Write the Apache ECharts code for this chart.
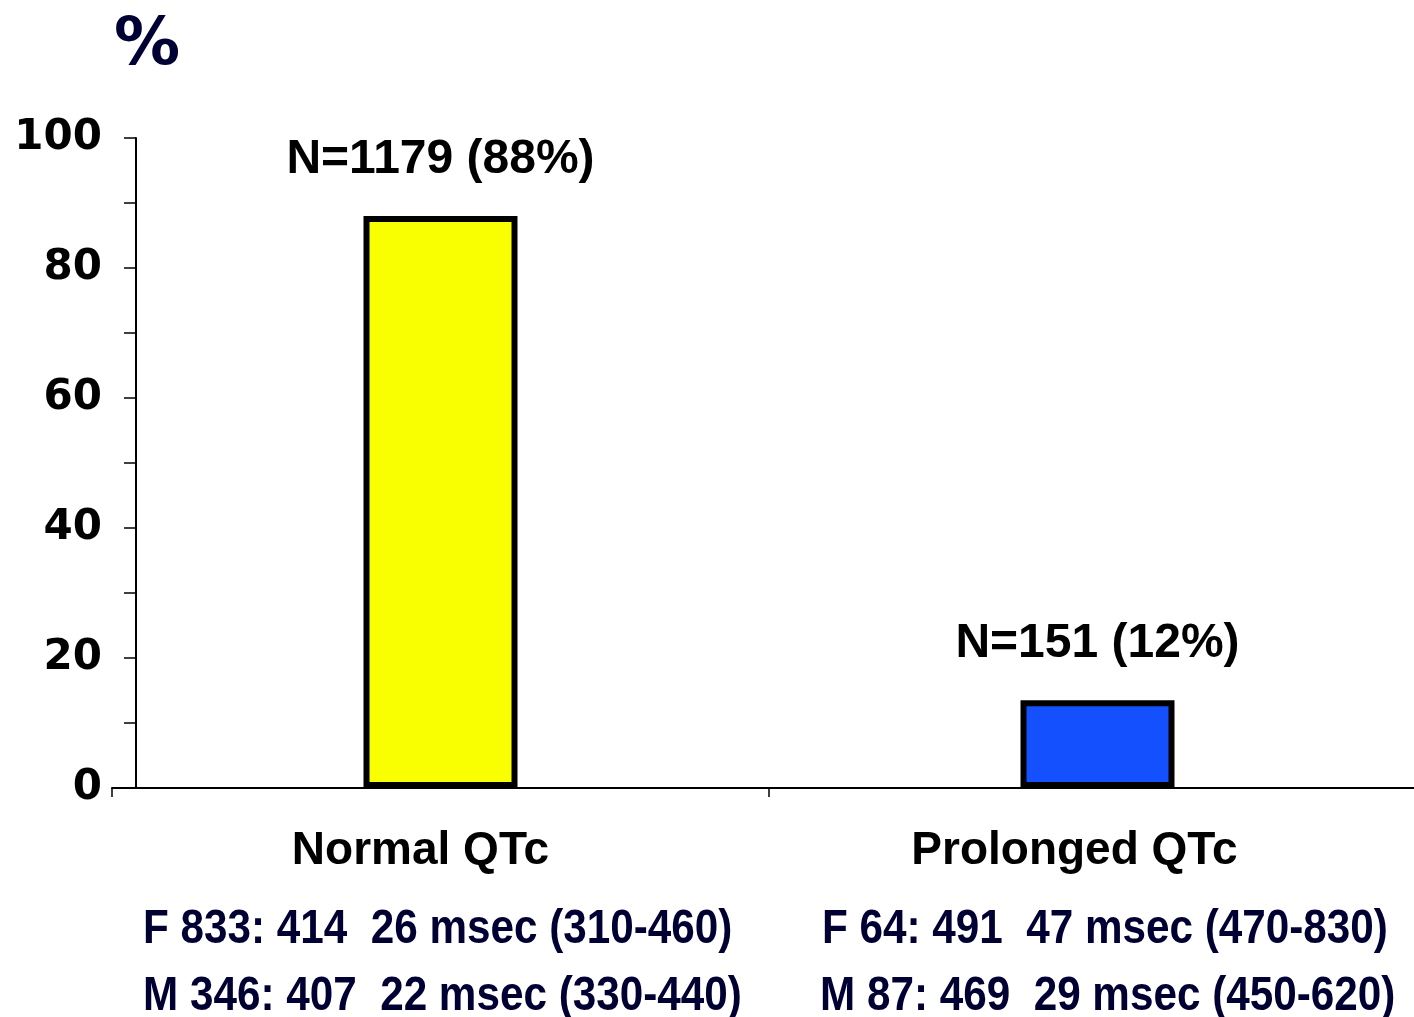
<!DOCTYPE html>
<html>
<head>
<meta charset="utf-8">
<script src="https://cdn.jsdelivr.net/npm/echarts@6/dist/echarts.min.js"></script>
<style>
  html, body { margin: 0; padding: 0; background: #fff; }
  #chart { width: 1414px; height: 1017px; }
</style>
</head>
<body>
<div id="chart"></div>
<script>
// chart values
const categories = ["Normal QTc", "Prolonged QTc"];
const percentValues = [88, 13.5];
const barLabels = ["N=1179 (88%)", "N=151 (12%)"];
const barColors = ["#FAFF00", "#1550FF"];
const statsLines = [
  ["F 833: 414  26 msec (310-460)", "M 346: 407  22 msec (330-440)"],
  ["F 64: 491  47 msec (470-830)", "M 87: 469  29 msec (450-620)"]
];
const yTicks = [0, 20, 40, 60, 80, 100];

let chartDom = document.getElementById("chart");
let myChart = echarts.init(chartDom);

function statText(left, top, text) {
  return {
    type: "text",
    x: left,
    y: top,
    scaleX: 0.88,
    style: { text: text, font: "bold 48px 'Liberation Sans'", fill: "#000033" }
  };
}

let option = {
  animation: false,
  grid: {
    left: 112,
    right: -12,
    top: 138,
    bottom: 229,
    outerBoundsMode: "none"
  },
  xAxis: {
    type: "category",
    data: categories,
    axisLine: { lineStyle: { color: "#000", width: 2 } },
    axisTick: { show: true, length: 9, lineStyle: { color: "#000", width: 1.5 } },
    axisLabel: {
      margin: 40,
      formatter: function(v, i) {
        return "{c" + i + "|" + v + "}";
      },
      rich: {
        c0: { fontFamily: "Liberation Sans", fontWeight: "bold", fontSize: 46, color: "#000", padding: [0, 40, 0, 0] },
        c1: { fontFamily: "Liberation Sans", fontWeight: "bold", fontSize: 46, color: "#000", padding: [0, 46, 0, 0] }
      }
    }
  },
  yAxis: {
    type: "value",
    offset: -24,
    min: yTicks[0],
    max: yTicks[yTicks.length - 1],
    interval: 20,
    name: "%",
    nameGap: 72,
    nameTextStyle: {
      fontFamily: "DejaVu Sans",
      fontWeight: "bold",
      fontSize: 66,
      color: "#000033",
      align: "left",
      padding: [0, 0, -14, -22]
    },
    axisLine: { show: true, lineStyle: { color: "#000", width: 2 } },
    axisTick: { show: true, length: 12, lineStyle: { color: "#000", width: 1.5 } },
    minorTick: { show: true, splitNumber: 2, length: 12, lineStyle: { color: "#000", width: 1.5 } },
    splitLine: { show: false },
    axisLabel: {
      margin: 34,
      fontFamily: "DejaVu Sans",
      fontWeight: "bold",
      fontSize: 42,
      color: "#000"
    }
  },
  series: [
    {
      type: "bar",
      barWidth: 154,
      data: percentValues.map(function(v, i) {
        return {
          value: v,
          itemStyle: { color: barColors[i], borderColor: "#000", borderWidth: 6 }
        };
      }),
      label: {
        show: true,
        position: "top",
        distance: 32,
        fontFamily: "Liberation Sans",
        fontWeight: "bold",
        fontSize: 48,
        color: "#000",
        formatter: function(p) {
          return barLabels[p.dataIndex];
        }
      }
    }
  ],
  graphic: [
    statText(143, 906, statsLines[0][0]),
    statText(143, 973, statsLines[0][1]),
    statText(822, 906, statsLines[1][0]),
    statText(820, 973, statsLines[1][1])
  ]
};

myChart.setOption(option, true);
</script>
</body>
</html>
